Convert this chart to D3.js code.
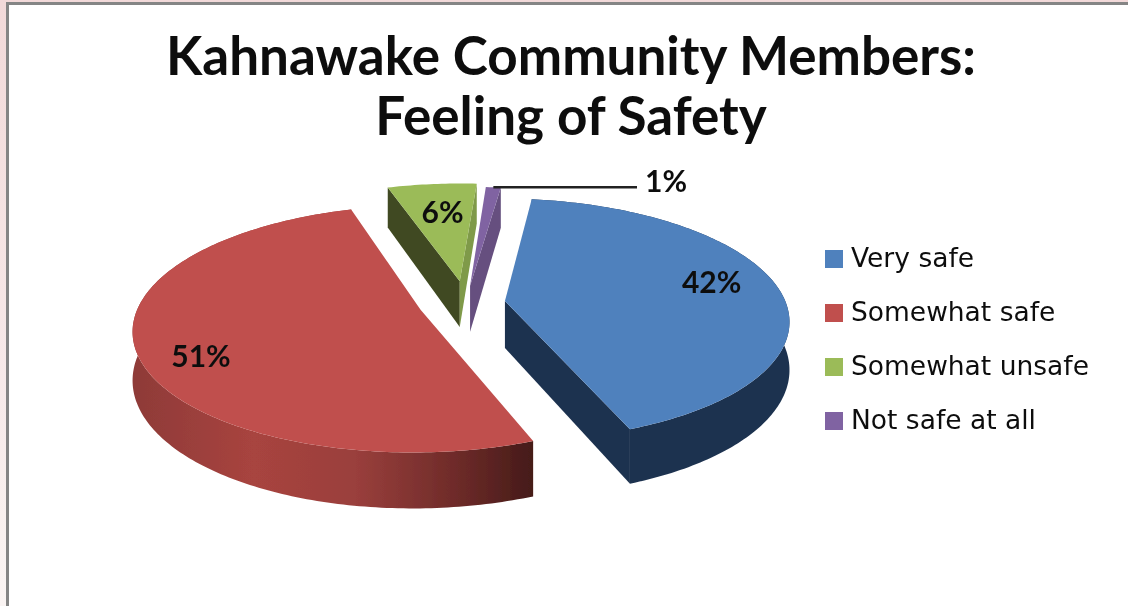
<!DOCTYPE html>
<html><head><meta charset="utf-8">
<script src="https://cdn.jsdelivr.net/npm/d3@7"></script>
<style>html,body{margin:0;padding:0;background:#fff;overflow:hidden}svg{display:block}</style>
</head><body><svg id="c" width="1128" height="606"></svg>
<script>
const categories = ["Very safe","Somewhat safe","Somewhat unsafe","Not safe at all"];
const values = [42,51,6,1];
const explode = [0.14,0.17,0.19,0.15];
const topColors = ["#4f81bd","#c0504d","#9bbb59","#8064a2"];
const arcColors = ["#1e3350","#8f3a38","#3f4a20","#66507f"];
const wallStart = ["#1e3350","#4a1a18","#3f4a20","#66507f"];
const wallEnd = ["#1e3350","#4a1a18","#7f9a48","#66507f"];
const titleLines = ["Kahnawake Community Members:","Feeling of Safety"];

const svg = d3.select("#c");
const cx=466, cy=303, R=281, K=118.7, P=0.152, T=47, startDeg=7.5;

const defs = svg.append("defs");
const bg = defs.append("linearGradient").attr("id","bg").attr("x1",0).attr("y1",0).attr("x2",0).attr("y2",1);
bg.append("stop").attr("offset",0).attr("stop-color","#f2d9d9");
bg.append("stop").attr("offset",1).attr("stop-color","#faf4f3");
const rg = defs.append("linearGradient").attr("id","redWall").attr("gradientUnits","userSpaceOnUse").attr("x1",132).attr("y1",0).attr("x2",537).attr("y2",0);
[[0,"#8e3a38"],[0.3,"#a8443f"],[0.55,"#9a3f3c"],[0.8,"#6e2b29"],[1,"#431a18"]].forEach(d=>rg.append("stop").attr("offset",d[0]).attr("stop-color",d[1]));
const blur = defs.append("filter").attr("id","soft").attr("x",0).attr("y",0).attr("width",1).attr("height",1);
blur.append("feGaussianBlur").attr("stdDeviation",0.6);

svg.append("rect").attr("width",1128).attr("height",606).attr("fill","url(#bg)");
svg.append("rect").attr("x",7.5).attr("y",3.5).attr("width",1200).attr("height",700).attr("fill","#fff").attr("stroke","#858585").attr("stroke-width",3);

const root = svg.append("g").attr("filter","url(#soft)");
const pie = d3.pie().sort(null).value(d=>d).startAngle(startDeg*Math.PI/180).endAngle((startDeg+360)*Math.PI/180);
const arcs = pie(values).map((d,i)=>({...d,i,mid:(d.startAngle+d.endAngle)/2}));

function pt(a,r,d,h){
  const gx=r*Math.sin(a)+explode[d.i]*Math.sin(d.mid);
  const gu=r*Math.cos(a)+explode[d.i]*Math.cos(d.mid);
  const s=1/(1+P*gu);
  return [cx+R*gx*s, cy-K*gu*s+h*T*s];
}
const line=d3.line();
function arcPts(d,h){const n=Math.max(4,Math.ceil((d.endAngle-d.startAngle)*60));
  return d3.range(n+1).map(j=>pt(d.startAngle+(d.endAngle-d.startAngle)*j/n,1,d,h));}

[2,3,0,1].forEach(idx=>{
  const d=arcs[idx], g=root.append("g");
  const c0=pt(0,0,d,0), c1=pt(0,0,d,1);
  const topArc=arcPts(d,0), botArc=arcPts(d,1);
  const wall=a=>{const p=pt(a,1,d,0),q=pt(a,1,d,1);return [c0,p,q,c1];};
  if(idx===2) g.append("path").attr("d",line(wall(d.startAngle))+"Z").attr("fill",wallStart[idx]);
  if(idx===0||idx>=2) g.append("path").attr("d",line(wall(d.endAngle))+"Z").attr("fill",wallEnd[idx]);
  if(idx<2) g.append("path").attr("d",line(topArc.concat(botArc.slice().reverse()))+"Z")
    .attr("fill",idx===1?"url(#redWall)":arcColors[idx]);
  g.append("path").attr("d",line([c0].concat(topArc))+"Z").attr("fill",topColors[idx]);
});

// data labels
const labelPos=[[0.74,4,-10],[0.83,14,10],[0.7,3,0]];
root.append("g").selectAll("text").data(arcs.slice(0,3)).join("text")
  .attr("x",d=>pt(d.mid,labelPos[d.i][0],d,0)[0]+labelPos[d.i][1]).attr("y",d=>pt(d.mid,labelPos[d.i][0],d,0)[1]+labelPos[d.i][2])
  .attr("text-anchor","middle").attr("dominant-baseline","central")
  .attr("font-family","Lato").attr("font-weight",700).attr("font-size",30).attr("fill","#111")
  .text(d=>values[d.i]+"%");
// leader line for 1%
const tip=pt(arcs[3].mid,1,arcs[3],0);
root.append("line").attr("x1",tip[0]).attr("y1",tip[1]).attr("x2",637).attr("y2",tip[1])
  .attr("stroke","#222").attr("stroke-width",2.5);
root.append("text").attr("x",645).attr("y",tip[1]-7).attr("dominant-baseline","central")
  .attr("font-family","Lato").attr("font-weight",700).attr("font-size",30).attr("fill","#111").text(values[3]+"%");

// title
root.append("g").selectAll("text").data(titleLines).join("text")
  .attr("x",571).attr("y",(d,i)=>75+i*60).attr("text-anchor","middle")
  .attr("font-family","Lato").attr("font-weight",700).attr("font-size",53).attr("fill","#0a0a0a").text(d=>d);

// legend
const ly=d3.scalePoint().domain(categories).range([259,421]);
const lg=root.append("g").selectAll("g").data(categories).join("g").attr("transform",d=>`translate(825,${ly(d)})`);
lg.append("rect").attr("x",0).attr("y",-9).attr("width",18).attr("height",18).attr("fill",(d,i)=>topColors[i]);
lg.append("text").attr("x",26).attr("y",-2).attr("dominant-baseline","central")
  .attr("font-family","DejaVu Sans").attr("font-size",26.5).attr("fill","#111").text(d=>d);
</script></body></html>
